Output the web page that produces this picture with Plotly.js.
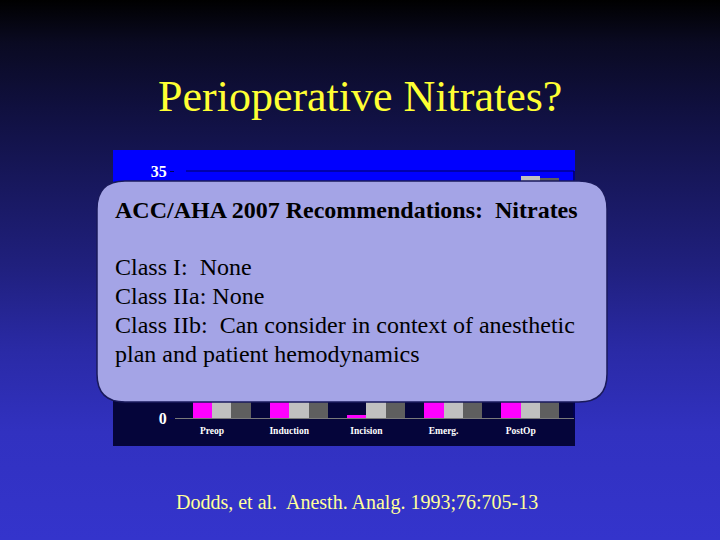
<!DOCTYPE html>
<html><head><meta charset="utf-8">
<script src="https://cdn.plot.ly/plotly-3.0.1.min.js"></script>
<style>
html,body{margin:0;padding:0;background:#000;}
#chart{width:720px;height:540px;background:linear-gradient(to bottom,#000000 0%,#0a0a22 8%,#10103f 20%,#18185f 35%,#20207f 50%,#2a2aa6 65%,#3131c0 80%,#3434cc 100%);}
</style></head><body><div id="chart"></div>
<script>
// ---- data ----
const categories = ['Preop', 'Induction', 'Incision', 'Emerg.', 'PostOp'];
const seriesBlank   = [0, 0, 0, 0, 0];
const seriesMagenta = [8, 6, 0.4, 10, 14];
const seriesLight   = [12, 10, 9, 16, 34.3];
const seriesDark    = [10, 8, 7, 13, 34];
const yTickVals  = [0, 35];
const yTickText  = ['0', '35'];

const slideTitle = 'Perioperative Nitrates?';
const boxHeading = 'ACC/AHA 2007 Recommendations:  Nitrates';
const boxLines = ['Class I:  None', 'Class IIa: None', 'Class IIb:  Can consider in context of anesthetic', 'plan and patient hemodynamics'];
const citation = 'Dodds, et al.  Anesth. Analg. 1993;76:705-13';

// ---- layout helpers (pixel -> paper) ----
const W = 720, H = 540;
const px = x => x / W;
const py = y => 1 - y / H;
const SERIF = "Liberation Serif, Times New Roman, serif";

function roundRectPath(x0, y0, x1, y1, r) {
  const P = (x, y) => px(x).toFixed(5) + ',' + py(y).toFixed(5);
  return 'M' + P(x0 + r, y0) + ' L' + P(x1 - r, y0) + ' Q' + P(x1, y0) + ' ' + P(x1, y0 + r) +
         ' L' + P(x1, y1 - r) + ' Q' + P(x1, y1) + ' ' + P(x1 - r, y1) +
         ' L' + P(x0 + r, y1) + ' Q' + P(x0, y1) + ' ' + P(x0, y1 - r) +
         ' L' + P(x0, y0 + r) + ' Q' + P(x0, y0) + ' ' + P(x0 + r, y0) + ' Z';
}

const barCommon = {type: 'bar', x: categories, hoverinfo: 'skip'};
const traces = [
  Object.assign({}, barCommon, {name: 'blank', y: seriesBlank, marker: {color: '#000066', line: {width: 0}}}),
  Object.assign({}, barCommon, {name: 'magenta', y: seriesMagenta, marker: {color: '#ff00ff', line: {width: 0}}}),
  Object.assign({}, barCommon, {name: 'light', y: seriesLight, marker: {color: '#c0c0c0', line: {width: 0}}}),
  Object.assign({}, barCommon, {name: 'dark', y: seriesDark, marker: {color: '#5f5f5f', line: {width: 0}}})
];

const lineY = [267, 296, 325, 354];
const annotations = [
  {text: slideTitle, x: px(360), y: py(96), xref: 'paper', yref: 'paper', xanchor: 'center', yanchor: 'middle',
   showarrow: false, font: {family: SERIF, size: 44, color: '#ffff33'}},
  {text: citation, x: px(357), y: py(502), xref: 'paper', yref: 'paper', xanchor: 'center', yanchor: 'middle',
   showarrow: false, font: {family: SERIF, size: 20, color: '#ffff99'}},
  {text: boxHeading, x: px(113), y: py(210), xref: 'paper', yref: 'paper', xanchor: 'left', yanchor: 'middle',
   showarrow: false, font: {family: SERIF, size: 24, color: '#000000', weight: 'bold'}}
].concat(boxLines.map((t, i) => ({
   text: t, x: px(113), y: py(lineY[i]), xref: 'paper', yref: 'paper', xanchor: 'left', yanchor: 'middle',
   showarrow: false, font: {family: SERIF, size: 24, color: '#000000'}})));

const shapes = [
  {type: 'rect', xref: 'paper', yref: 'paper', x0: px(113), x1: px(575), y0: py(150), y1: py(290),
   fillcolor: '#0000ff', line: {width: 0}, layer: 'below'},
  {type: 'rect', xref: 'paper', yref: 'paper', x0: px(113), x1: px(575), y0: py(290), y1: py(446),
   fillcolor: '#05053a', line: {width: 0}, layer: 'below'},
  {type: 'line', xref: 'paper', yref: 'paper', x0: px(186), x1: px(574), y0: py(171), y1: py(171),
   line: {color: '#00005a', width: 1}, layer: 'below'},
  {type: 'line', xref: 'paper', yref: 'paper', x0: px(574), x1: px(574), y0: py(171), y1: py(418),
   line: {color: '#00005a', width: 1.5}, layer: 'below'},
  {type: 'path', xref: 'paper', yref: 'paper', path: roundRectPath(97, 181, 607, 402, 28),
   fillcolor: '#a4a4e6', line: {color: '#1a1a5c', width: 1.5}, layer: 'above'}
];

const layout = {
  width: W, height: H, autosize: false,
  margin: {l: 0, r: 0, t: 0, b: 0, pad: 0},
  paper_bgcolor: 'rgba(0,0,0,0)', plot_bgcolor: 'rgba(0,0,0,0)',
  showlegend: false, barmode: 'group', bargap: 0, bargroupgap: 0,
  xaxis: {domain: [px(175), px(574)], range: [-0.48, 4.69], type: 'category',
          showgrid: false, zeroline: false, showline: true, linecolor: '#7a7a7a', linewidth: 1,
          ticks: '', ticklabelstandoff: 4,
          tickfont: {family: SERIF, size: 9.5, color: '#ffffff', weight: 'bold'}, fixedrange: true},
  yaxis: {domain: [py(418), py(171)], range: [0, 35], tickvals: yTickVals, ticktext: yTickText,
          showgrid: false, zeroline: false, showline: false, ticks: 'outside', ticklen: 4,
          tickcolor: '#00005a', tickfont: {family: SERIF, size: 16, color: '#ffffff', weight: 'bold'}, fixedrange: true},
  shapes: shapes,
  annotations: annotations
};

Plotly.newPlot('chart', traces, layout, {displayModeBar: false, staticPlot: true});
</script>
</body></html>
